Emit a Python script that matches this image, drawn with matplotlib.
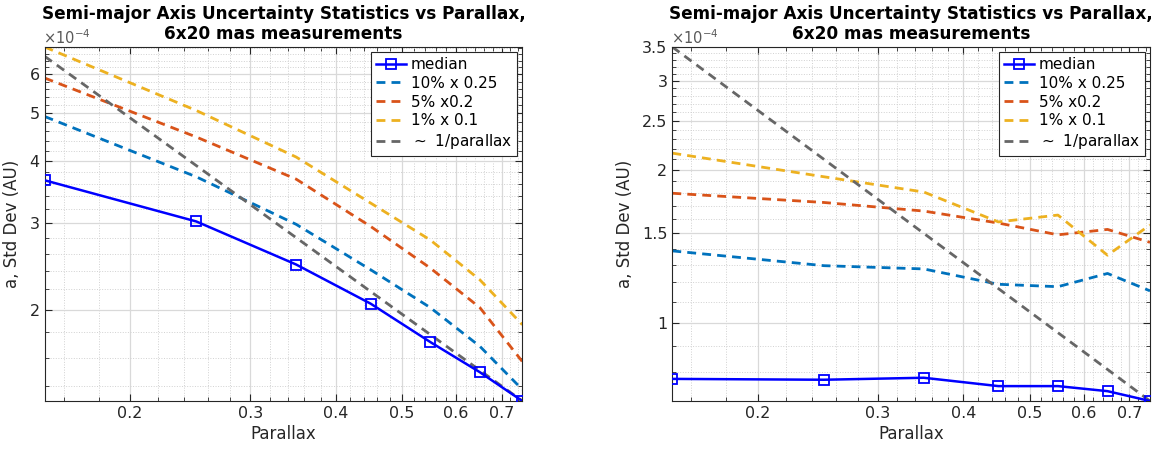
import numpy as np
import matplotlib
matplotlib.use("Agg")
import matplotlib.pyplot as plt
from matplotlib.ticker import FixedLocator, NullFormatter, FuncFormatter

# ------------------ DATA (values in units of 1e-4 AU) ------------------
parallax = [0.15, 0.25, 0.35, 0.45, 0.55, 0.65, 0.75]

# left panel
left_median = [3.66, 3.02, 2.47, 2.057, 1.72, 1.494, 1.306]
left_p10 = [4.93, 3.72, 2.98, 2.41, 2.02, 1.686, 1.378]
left_p5 = [5.90, 4.48, 3.68, 2.95, 2.43, 2.02, 1.57]
left_p1 = [6.82, 5.07, 4.08, 3.29, 2.77, 2.30, 1.865]
left_inv = [6.53, 3.92, 2.80, 2.177, 1.781, 1.507, 1.306]

# right panel
right_median = [0.774, 0.771, 0.778, 0.749, 0.749, 0.732, 0.700]
right_p10 = [1.385, 1.295, 1.276, 1.19, 1.177, 1.25, 1.155]
right_p5 = [1.80, 1.726, 1.66, 1.572, 1.49, 1.527, 1.44]
right_p1 = [2.16, 1.94, 1.81, 1.58, 1.63, 1.358, 1.558]
right_inv = [3.50, 2.10, 1.50, 1.167, 0.955, 0.808, 0.700]

x_ticks = [0.2, 0.3, 0.4, 0.5, 0.6, 0.7]
left_yticks = [2, 3, 4, 5, 6]
right_yticks = [1, 1.5, 2, 2.5, 3, 3.5]

labels = ["median", "10% x 0.25", "5% x0.2", "1% x 0.1", r"$\sim$ 1/parallax"]
title_1 = "Semi-major Axis Uncertainty Statistics vs Parallax,"
title_2 = "6x20 mas measurements"

# MATLAB default colours
c_blue = (0, 0.447, 0.741)
c_orange = (0.85, 0.325, 0.098)
c_yellow = (0.929, 0.694, 0.125)
c_gray = (0.4, 0.4, 0.4)
c_axis = (0.15, 0.15, 0.15)

plt.rcParams["font.family"] = ["DejaVu Sans"]

DASH = (3.2, 2.2)


def fmt(v, pos):
    return f"{v:g}"


def panel(ax, med, p10, p5, p1, inv, yticks, ystep):
    ax.plot(parallax, med, color="b", lw=1.8, marker="s", ms=7.5, mfc="none", mew=1.3,
            label=labels[0], zorder=5)
    ax.plot(parallax, p10, color=c_blue, lw=2, dashes=DASH, label=labels[1])
    ax.plot(parallax, p5, color=c_orange, lw=2, dashes=DASH, label=labels[2])
    ax.plot(parallax, p1, color=c_yellow, lw=2, dashes=DASH, label=labels[3])
    ax.plot(parallax, inv, color=c_gray, lw=2, dashes=DASH, label=labels[4])

    ax.set_xscale("log")
    ax.set_yscale("log")
    ax.set_xlim(parallax[0], parallax[-1])
    allv = med + p10 + p5 + p1 + inv
    ax.set_ylim(min(allv), max(allv))

    ax.xaxis.set_major_locator(FixedLocator(x_ticks))
    ax.xaxis.set_major_formatter(FuncFormatter(fmt))
    xminor = [round(v, 2) for v in np.arange(0.16, 0.75, 0.02) if round(v, 2) not in x_ticks]
    ax.xaxis.set_minor_locator(FixedLocator(xminor))
    ax.xaxis.set_minor_formatter(NullFormatter())

    ax.yaxis.set_major_locator(FixedLocator(yticks))
    ax.yaxis.set_major_formatter(FuncFormatter(fmt))
    yminor = [round(v, 2) for v in np.arange(0.6, 7.0, ystep) if round(v, 2) not in yticks]
    ax.yaxis.set_minor_locator(FixedLocator(yminor))
    ax.yaxis.set_minor_formatter(NullFormatter())

    ax.grid(True, which="major", color=(0.85, 0.85, 0.85), lw=0.9)
    ax.grid(True, which="minor", color=(0.82, 0.82, 0.82), lw=0.7, ls=":")
    ax.set_axisbelow(True)
    ax.tick_params(which="both", direction="in", top=True, right=True, colors=c_axis,
                   labelsize=11.5, labelcolor=c_axis)
    ax.tick_params(which="major", length=5)
    ax.tick_params(which="minor", length=3)
    for s in ax.spines.values():
        s.set_color(c_axis)
        s.set_linewidth(0.8)

    ax.set_xlabel("Parallax", fontsize=12, color=c_axis, labelpad=3)
    ax.set_ylabel("a, Std Dev (AU)", fontsize=12, color=c_axis, labelpad=6)
    # title as two separate lines
    ax.text(0.5, 1.069, title_1, transform=ax.transAxes, ha="center", va="bottom",
            fontsize=12.2, fontweight="bold")
    ax.text(0.5, 1.012, title_2, transform=ax.transAxes, ha="center", va="bottom",
            fontsize=12.2, fontweight="bold")
    ax.text(-0.003, 1.0, r"$\times10^{-4}$", transform=ax.transAxes, ha="left", va="bottom",
            fontsize=10.5, color=(0.35, 0.35, 0.35))
    leg = ax.legend(loc="upper right", fontsize=11, handlelength=2.0, handletextpad=0.3,
                    borderaxespad=0.35, borderpad=0.3, labelspacing=0.25, fancybox=False,
                    framealpha=1, edgecolor=c_axis)
    leg.get_frame().set_linewidth(0.8)


fig = plt.figure(figsize=(11.63, 4.53), dpi=100)
ax1 = fig.add_axes([0.0384, 0.1148, 0.4107, 0.7815])
ax2 = fig.add_axes([0.5781, 0.1148, 0.4107, 0.7815])

panel(ax1, left_median, left_p10, left_p5, left_p1, left_inv, left_yticks, 0.2)
panel(ax2, right_median, right_p10, right_p5, right_p1, right_inv, right_yticks, 0.1)

fig.savefig("out.png", dpi=100)
